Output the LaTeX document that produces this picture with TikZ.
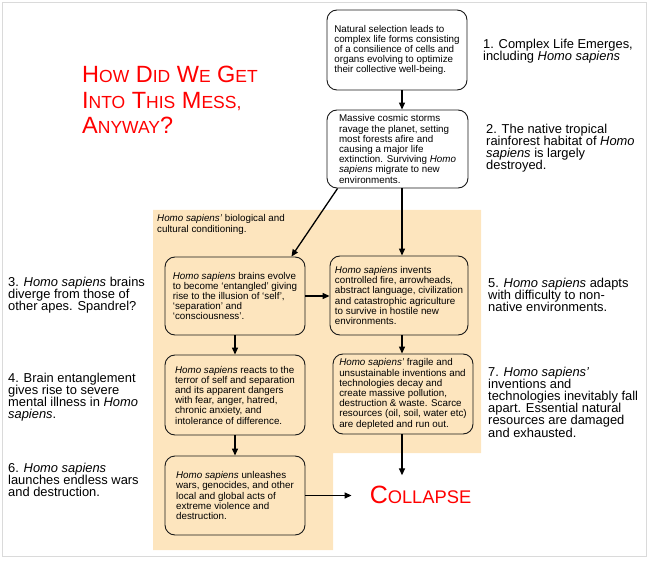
\documentclass[tikz,border=0pt]{standalone}
\usepackage{fontspec}
\setmainfont{Liberation Sans}
\usetikzlibrary{arrows.meta,calc}
\definecolor{paleorange}{RGB}{253,229,190}
\definecolor{framegray}{RGB}{218,218,218}
\definecolor{titlered}{RGB}{255,0,0}
\newcommand{\tsc}[2]{#1{\fontsize{17.5}{25}\selectfont #2}}
\begin{document}
\begin{tikzpicture}[x=1pt,y=-1pt,
  box/.style={draw=black!90, line width=0.9pt, rounded corners=10pt,
    font=\fontsize{9.8}{10.2}\selectfont, align=left, inner sep=0pt},
  lab/.style={font=\fontsize{12.9}{12.2}\selectfont, align=left, anchor=west, inner sep=0pt},
  ttl/.style={font=\fontsize{23.5}{25}\selectfont, text=titlered, anchor=base west, inner sep=0pt},
  arr/.style={line width=1.3pt, -{Triangle[length=7pt,width=6pt]}}]
\useasboundingbox (0,0) rectangle (650,561);
\draw[framegray, line width=1.5pt] (2.5,2.5) rectangle (646.5,556.5);
% conditioning region
\fill[paleorange] (153,210) -- (481,210) -- (481,453) -- (333,453) -- (333,550) -- (153,550) -- cycle;
\node[font=\fontsize{9.8}{10.2}\selectfont, align=left, anchor=north west, inner sep=0pt] (cap) at (157,214.5)
  {\textit{Homo sapiens’} biological and\\cultural conditioning.};
% title
\node[ttl] (t1) at (82,83) {\tsc{H}{OW} \tsc{D}{ID} \tsc{W}{E} \tsc{G}{ET}};
\node[ttl] (t2) at (82,109) {\tsc{I}{NTO} \tsc{T}{HIS} \tsc{M}{ESS,}};
\node[ttl] (t3) at (82,134) {\tsc{A}{NYWAY}?};
% boxes
\node[box, fill=white, minimum width=140pt, minimum height=80pt] (b1) at (397,50)
  {Natural selection leads to\\complex life forms consisting\\of a consilience of cells and\\organs evolving to optimize\\their collective well-being.};
\node[box, fill=white, minimum width=141pt, minimum height=78pt] (b2) at (397.5,149)
  {Massive cosmic storms\\ravage the planet, setting\\most forests afire and\\causing a major life\\extinction. Surviving \textit{Homo}\\\textit{sapiens} migrate to new\\environments.};
\node[box, minimum width=140pt, minimum height=78pt] (b3) at (235,296)
  {\textit{Homo sapiens} brains evolve\\to become ‘entangled’ giving\\rise to the illusion of ‘self’,\\‘separation’ and\\‘consciousness’.};
\node[box, minimum width=138pt, minimum height=79pt] (b5) at (399,295.5)
  {\textit{Homo sapiens} invents\\controlled fire, arrowheads,\\abstract language, civilization\\and catastrophic agriculture\\to survive in hostile new\\environments.};
\node[box, minimum width=140pt, minimum height=80pt] (b4) at (235,395)
  {\textit{Homo sapiens} reacts to the\\terror of self and separation\\and its apparent dangers\\with fear, anger, hatred,\\chronic anxiety, and\\intolerance of difference.};
\node[box, minimum width=140pt, minimum height=80pt] (b7) at (403,394)
  {\textit{Homo sapiens’} fragile and\\unsustainable inventions and\\technologies decay and\\create massive pollution,\\destruction \& waste. Scarce\\resources (oil, soil, water etc)\\are depleted and run out.};
\node[box, minimum width=140pt, minimum height=79pt] (b6) at (235,495.5)
  {\textit{Homo sapiens} unleashes\\wars, genocides, and other\\local and global acts of\\extreme violence and\\destruction.};
\node[text=titlered, anchor=base, inner sep=0pt] (col) at (420.5,503)
  {{\fontsize{25}{25}\selectfont C}{\fontsize{18.3}{25}\selectfont OLLAPSE}};
% side labels
\node[lab] (l1) at (483,51) {1. Complex Life Emerges,\\including \textit{Homo sapiens}};
\node[lab] (l2) at (486,148) {2. The native tropical\\rainforest habitat of \textit{Homo}\\\textit{sapiens} is largely\\destroyed.};
\node[lab] (l3) at (8,295) {3. \textit{Homo sapiens} brains\\diverge from those of\\other apes. Spandrel?};
\node[lab] (l4) at (8,397) {4. Brain entanglement\\gives rise to severe\\mental illness in \textit{Homo}\\\textit{sapiens}.};
\node[lab] (l6) at (8,480) {6. \textit{Homo sapiens}\\launches endless wars\\and destruction.};
\node[lab] (l5) at (488,295) {5. \textit{Homo sapiens} adapts\\with difficulty to non-\\native environments.};
\node[lab] (l7) at (488,402) {7. \textit{Homo sapiens’}\\inventions and\\technologies inevitably fall\\apart. Essential natural\\resources are damaged\\and exhausted.};
% connectors
\coordinate (ax) at (402,0);
\draw[arr] (b1.south -| ax) -- (b2.north -| ax);
\draw[arr] (b2.south -| ax) -- (b5.north -| ax);
\draw[arr] ($(b2.south west)+(11,0)$) -- ($(b3.north east)+(-14,0)$);
\draw[arr] (b3.east) -- (b3.east -| b5.west);
\draw[arr] (b3.south) -- (b4.north);
\draw[arr] (b4.south) -- (b6.north);
\draw[arr] (b5.south -| ax) -- (b7.north -| ax);
\draw[arr, shorten >=10pt] (b7.south -| ax) -- (col.north -| ax);
\draw[arr, shorten >=18pt] (b6.east) -- (b6.east -| col.west);
\end{tikzpicture}
\end{document}
